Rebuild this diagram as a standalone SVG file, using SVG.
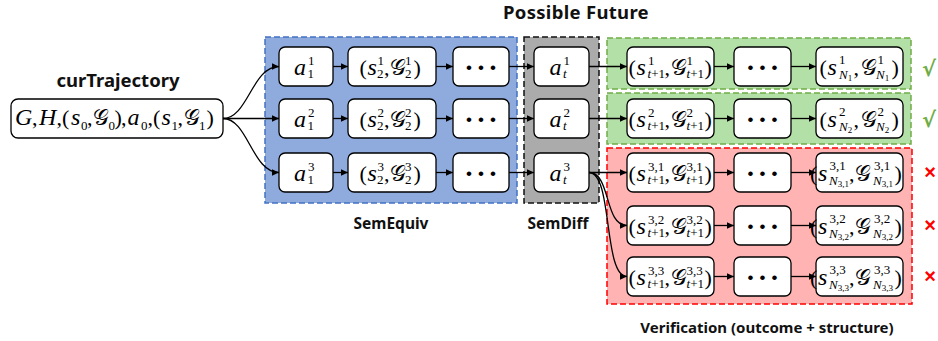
<svg xmlns="http://www.w3.org/2000/svg" width="938" height="341" viewBox="0 0 938 341">
<defs>
<marker id="arr" viewBox="0 0 10 10" refX="10" refY="5" markerWidth="8" markerHeight="7" markerUnits="userSpaceOnUse" orient="auto"><path d="M0,0.5 L10,5 L0,9.5 z" fill="#000"/></marker>
<style>
.box{fill:#fff;stroke:#000;stroke-width:1.3}
.m{font-family:"Liberation Serif","DejaVu Serif",serif;font-size:22px;fill:#000}
.v{font-size:24px;font-style:italic}
.g{font-size:22px}
.i{font-style:italic}
.s{font-size:13px}
.ss{font-size:9px}
.dots{font-family:"Liberation Sans",Arial,sans-serif;font-size:17px;word-spacing:1.3px;text-anchor:middle;fill:#000}
.lbl{font-family:"Noto Sans","Open Sans","Liberation Sans",sans-serif;font-weight:bold;fill:#111;text-anchor:middle}
.reg{stroke-width:1.5;stroke-dasharray:6 3}
</style>
</defs>
<rect width="938" height="341" fill="#fff"/>

<g id="regions">
<rect class="reg" x="265" y="37" width="252" height="166" fill="#8FAADC" stroke="#4472C4"/>
<rect class="reg" x="524" y="37" width="75" height="166" fill="#ABABAB" stroke="#111"/>
<rect class="reg" x="607" y="38" width="304" height="51" fill="#B3E0A6" stroke="#70AD47"/>
<rect class="reg" x="607" y="93" width="304" height="51" fill="#B3E0A6" stroke="#70AD47"/>
<rect class="reg" x="607" y="148" width="305" height="156" fill="#FFB3B3" stroke="#FF0000"/>
</g>

<g id="labels">
<text class="lbl" x="576" y="19" font-size="18.5" letter-spacing="0.3">Possible Future</text>
<text class="lbl" x="118" y="87" font-size="18.5">curTrajectory</text>
<text class="lbl" x="391" y="229" font-size="15.5">SemEquiv</text>
<text class="lbl" x="558" y="229" font-size="15.5">SemDiff</text>
<text class="lbl" x="767" y="333" font-size="15">Verification (outcome + structure)</text>
<text x="929" y="76" font-family="DejaVu Sans,sans-serif" font-size="21" font-weight="bold" fill="#70AD47" text-anchor="middle">√</text>
<text x="929" y="127" font-family="DejaVu Sans,sans-serif" font-size="21" font-weight="bold" fill="#70AD47" text-anchor="middle">√</text>
<text x="930" y="179" font-family="Liberation Sans,sans-serif" font-size="20" font-weight="bold" fill="#FF0000" text-anchor="middle">×</text>
<text x="930" y="232" font-family="Liberation Sans,sans-serif" font-size="20" font-weight="bold" fill="#FF0000" text-anchor="middle">×</text>
<text x="930" y="283" font-family="Liberation Sans,sans-serif" font-size="20" font-weight="bold" fill="#FF0000" text-anchor="middle">×</text>
</g>

<g id="connectors" fill="none" stroke="#000" stroke-width="1.3" marker-end="url(#arr)">
<path d="M223,118.5 C248,118.5 252,66.5 279,66.5"/>
<path d="M223,118.5 H279"/>
<path d="M223,118.5 C248,118.5 252,172.5 279,172.5"/>
<path d="M333,66.5 H348"/><path d="M436,66.5 H453"/><path d="M509,66.5 H534"/>
<path d="M333,118.5 H348"/><path d="M436,118.5 H453"/><path d="M509,118.5 H534"/>
<path d="M333,172.5 H348"/><path d="M436,172.5 H453"/><path d="M509,172.5 H534"/>
<path d="M589,66.5 H627"/><path d="M589,118.5 H627"/>
<path d="M589,172.5 H627"/>
<path d="M589,172.5 C611,172.5 604,225.5 627,225.5"/>
<path d="M589,172.5 C613,172.5 603,276.5 627,276.5"/>
<path d="M714,66.5 H734"/><path d="M791,66.5 H816"/>
<path d="M714,118.5 H734"/><path d="M791,118.5 H816"/>
<path d="M714,172.5 H734"/><path d="M791,172.5 H816"/>
<path d="M714,225.5 H734"/><path d="M791,225.5 H816"/>
<path d="M714,276.5 H734"/><path d="M791,276.5 H816"/>
</g>

<g id="cur">
<rect class="box" x="11" y="99" width="212" height="39" rx="7"/>
<text class="m"><tspan class="v" x="15" y="125">G</tspan><tspan x="32">,</tspan><tspan class="v" x="39">H</tspan><tspan x="56.5">,</tspan><tspan x="62">(</tspan><tspan class="v" x="71">s</tspan><tspan class="s" x="81" y="130">0</tspan><tspan x="87" y="125">,</tspan><tspan class="g" x="93">𝒢</tspan><tspan class="s" x="108.5" y="130">0</tspan><tspan x="114.5" y="125">)</tspan><tspan x="121">,</tspan><tspan class="v" x="127.5">a</tspan><tspan class="s" x="141" y="130">0</tspan><tspan x="147.5" y="125">,</tspan><tspan x="153">(</tspan><tspan class="v" x="161.5">s</tspan><tspan class="s" x="171.5" y="130">1</tspan><tspan x="177.5" y="125">,</tspan><tspan class="g" x="183.5">𝒢</tspan><tspan class="s" x="199" y="130">1</tspan><tspan x="206.5" y="125">)</tspan></text>
</g>

<g id="a1_1"><rect class="box" x="279" y="47" width="54" height="39" rx="6"/>
<text class="m"><tspan class="v" x="294" y="75">a</tspan><tspan class="s" x="308" y="64.5">1</tspan><tspan class="s" x="307.5" y="78">1</tspan></text></g>
<g id="a1_2"><rect class="box" x="279" y="99" width="54" height="39" rx="6"/>
<text class="m"><tspan class="v" x="294" y="127">a</tspan><tspan class="s" x="308" y="116.5">2</tspan><tspan class="s" x="307.5" y="130">1</tspan></text></g>
<g id="a1_3"><rect class="box" x="279" y="153" width="54" height="39" rx="6"/>
<text class="m"><tspan class="v" x="294" y="181">a</tspan><tspan class="s" x="308" y="170.5">3</tspan><tspan class="s" x="307.5" y="184">1</tspan></text></g>

<g id="s2_1"><rect class="box" x="348" y="47" width="88" height="39" rx="6"/>
<text class="m"><tspan x="359.5" y="75">(</tspan><tspan class="v" x="367.5">s</tspan><tspan class="s" x="377.5" y="64.5">1</tspan><tspan class="s" x="377" y="78">2</tspan><tspan x="384" y="75">,</tspan><tspan class="g" x="390">𝒢</tspan><tspan class="s" x="405" y="64.5">1</tspan><tspan class="s" x="405" y="78">2</tspan><tspan x="413.5" y="75">)</tspan></text></g>
<g id="s2_2"><rect class="box" x="348" y="99" width="88" height="39" rx="6"/>
<text class="m"><tspan x="359.5" y="127">(</tspan><tspan class="v" x="367.5">s</tspan><tspan class="s" x="377.5" y="116.5">2</tspan><tspan class="s" x="377" y="130">2</tspan><tspan x="384" y="127">,</tspan><tspan class="g" x="390">𝒢</tspan><tspan class="s" x="405" y="116.5">2</tspan><tspan class="s" x="405" y="130">2</tspan><tspan x="413.5" y="127">)</tspan></text></g>
<g id="s2_3"><rect class="box" x="348" y="153" width="88" height="39" rx="6"/>
<text class="m"><tspan x="359.5" y="181">(</tspan><tspan class="v" x="367.5">s</tspan><tspan class="s" x="377.5" y="170.5">3</tspan><tspan class="s" x="377" y="184">2</tspan><tspan x="384" y="181">,</tspan><tspan class="g" x="390">𝒢</tspan><tspan class="s" x="405" y="170.5">3</tspan><tspan class="s" x="405" y="184">2</tspan><tspan x="413.5" y="181">)</tspan></text></g>

<g id="dots_1"><rect class="box" x="453" y="47" width="56" height="39" rx="6"/><text class="dots" x="481" y="72.5">• • •</text></g>
<g id="dots_2"><rect class="box" x="453" y="99" width="56" height="39" rx="6"/><text class="dots" x="481" y="124.5">• • •</text></g>
<g id="dots_3"><rect class="box" x="453" y="153" width="56" height="39" rx="6"/><text class="dots" x="481" y="178.5">• • •</text></g>

<g id="at_1"><rect class="box" x="534" y="47" width="55" height="39" rx="6"/>
<text class="m"><tspan class="v" x="549.5" y="75">a</tspan><tspan class="s" x="563.5" y="64.5">1</tspan><tspan class="s i" x="563" y="78">t</tspan></text></g>
<g id="at_2"><rect class="box" x="534" y="99" width="55" height="39" rx="6"/>
<text class="m"><tspan class="v" x="549.5" y="127">a</tspan><tspan class="s" x="563.5" y="116.5">2</tspan><tspan class="s i" x="563" y="130">t</tspan></text></g>
<g id="at_3"><rect class="box" x="534" y="153" width="55" height="39" rx="6"/>
<text class="m"><tspan class="v" x="549.5" y="181">a</tspan><tspan class="s" x="563.5" y="170.5">3</tspan><tspan class="s i" x="563" y="184">t</tspan></text></g>

<g id="st_1"><rect class="box" x="627" y="47" width="87" height="39" rx="6"/>
<text class="m"><tspan x="628.5" y="75">(</tspan><tspan class="v" x="636.5">s</tspan><tspan class="s" x="648" y="64.5">1</tspan><tspan class="s" x="647.5" y="78"><tspan class="i">t</tspan>+1</tspan><tspan x="664.5" y="75">,</tspan><tspan class="g" x="670.5">𝒢</tspan><tspan class="s" x="686.5" y="64.5">1</tspan><tspan class="s" x="686.5" y="78"><tspan class="i">t</tspan>+1</tspan><tspan x="704.5" y="75">)</tspan></text></g>
<g id="st_2"><rect class="box" x="627" y="99" width="87" height="39" rx="6"/>
<text class="m"><tspan x="628.5" y="127">(</tspan><tspan class="v" x="636.5">s</tspan><tspan class="s" x="648" y="116.5">2</tspan><tspan class="s" x="647.5" y="130"><tspan class="i">t</tspan>+1</tspan><tspan x="664.5" y="127">,</tspan><tspan class="g" x="670.5">𝒢</tspan><tspan class="s" x="686.5" y="116.5">2</tspan><tspan class="s" x="686.5" y="130"><tspan class="i">t</tspan>+1</tspan><tspan x="704.5" y="127">)</tspan></text></g>
<g id="st_31"><rect class="box" x="627" y="153" width="87" height="39" rx="6"/>
<text class="m"><tspan x="628.5" y="181">(</tspan><tspan class="v" x="636.5">s</tspan><tspan class="s" x="648" y="170.5">3,1</tspan><tspan class="s" x="647.5" y="184"><tspan class="i">t</tspan>+1</tspan><tspan x="664.5" y="181">,</tspan><tspan class="g" x="670.5">𝒢</tspan><tspan class="s" x="686.5" y="170.5">3,1</tspan><tspan class="s" x="686.5" y="184"><tspan class="i">t</tspan>+1</tspan><tspan x="704.5" y="181">)</tspan></text></g>
<g id="st_32"><rect class="box" x="627" y="206" width="87" height="39" rx="6"/>
<text class="m"><tspan x="628.5" y="234">(</tspan><tspan class="v" x="636.5">s</tspan><tspan class="s" x="648" y="223.5">3,2</tspan><tspan class="s" x="647.5" y="237"><tspan class="i">t</tspan>+1</tspan><tspan x="664.5" y="234">,</tspan><tspan class="g" x="670.5">𝒢</tspan><tspan class="s" x="686.5" y="223.5">3,2</tspan><tspan class="s" x="686.5" y="237"><tspan class="i">t</tspan>+1</tspan><tspan x="704.5" y="234">)</tspan></text></g>
<g id="st_33"><rect class="box" x="627" y="257" width="87" height="39" rx="6"/>
<text class="m"><tspan x="628.5" y="285">(</tspan><tspan class="v" x="636.5">s</tspan><tspan class="s" x="648" y="274.5">3,3</tspan><tspan class="s" x="647.5" y="288"><tspan class="i">t</tspan>+1</tspan><tspan x="664.5" y="285">,</tspan><tspan class="g" x="670.5">𝒢</tspan><tspan class="s" x="686.5" y="274.5">3,3</tspan><tspan class="s" x="686.5" y="288"><tspan class="i">t</tspan>+1</tspan><tspan x="704.5" y="285">)</tspan></text></g>

<g id="gdots_1"><rect class="box" x="734" y="47" width="57" height="39" rx="6"/><text class="dots" x="762.5" y="72.5">• • •</text></g>
<g id="gdots_2"><rect class="box" x="734" y="99" width="57" height="39" rx="6"/><text class="dots" x="762.5" y="124.5">• • •</text></g>
<g id="rdots_1"><rect class="box" x="734" y="153" width="57" height="39" rx="6"/><text class="dots" x="762.5" y="178.5">• • •</text></g>
<g id="rdots_2"><rect class="box" x="734" y="206" width="57" height="39" rx="6"/><text class="dots" x="762.5" y="231.5">• • •</text></g>
<g id="rdots_3"><rect class="box" x="734" y="257" width="57" height="39" rx="6"/><text class="dots" x="762.5" y="282.5">• • •</text></g>

<g id="sN_1"><rect class="box" x="816" y="47" width="87" height="39" rx="6"/>
<text class="m"><tspan x="819.5" y="75">(</tspan><tspan class="v" x="827.5">s</tspan><tspan class="s" x="839" y="63.5">1</tspan><tspan class="s i" x="839" y="78.5">N</tspan><tspan class="ss" y="81">1</tspan><tspan x="853.5" y="75">,</tspan><tspan class="g" x="861">𝒢</tspan><tspan class="s" x="877.5" y="63.5">1</tspan><tspan class="s i" x="876" y="78.5">N</tspan><tspan class="ss" y="81">1</tspan><tspan x="891.5" y="75">)</tspan></text></g>
<g id="sN_2"><rect class="box" x="816" y="99" width="87" height="39" rx="6"/>
<text class="m"><tspan x="819.5" y="127">(</tspan><tspan class="v" x="827.5">s</tspan><tspan class="s" x="839" y="115.5">2</tspan><tspan class="s i" x="839" y="130.5">N</tspan><tspan class="ss" y="133">2</tspan><tspan x="853.5" y="127">,</tspan><tspan class="g" x="861">𝒢</tspan><tspan class="s" x="877.5" y="115.5">2</tspan><tspan class="s i" x="876" y="130.5">N</tspan><tspan class="ss" y="133">2</tspan><tspan x="891.5" y="127">)</tspan></text></g>
<g id="sN_31"><rect class="box" x="816" y="153" width="87" height="39" rx="6"/>
<text class="m"><tspan x="810" y="181">(</tspan><tspan class="v" x="818">s</tspan><tspan class="s" x="829.5" y="169.5">3,1</tspan><tspan class="s i" x="829" y="184.5">N</tspan><tspan class="ss" y="187">3,1</tspan><tspan x="849" y="181">,</tspan><tspan class="g" x="855">𝒢</tspan><tspan class="s" x="874" y="169.5">3,1</tspan><tspan class="s i" x="873" y="184.5">N</tspan><tspan class="ss" y="187">3,1</tspan><tspan x="894.5" y="181">)</tspan></text></g>
<g id="sN_32"><rect class="box" x="816" y="206" width="87" height="39" rx="6"/>
<text class="m"><tspan x="810" y="234">(</tspan><tspan class="v" x="818">s</tspan><tspan class="s" x="829.5" y="222.5">3,2</tspan><tspan class="s i" x="829" y="237.5">N</tspan><tspan class="ss" y="240">3,2</tspan><tspan x="849" y="234">,</tspan><tspan class="g" x="855">𝒢</tspan><tspan class="s" x="874" y="222.5">3,2</tspan><tspan class="s i" x="873" y="237.5">N</tspan><tspan class="ss" y="240">3,2</tspan><tspan x="894.5" y="234">)</tspan></text></g>
<g id="sN_33"><rect class="box" x="816" y="257" width="87" height="39" rx="6"/>
<text class="m"><tspan x="810" y="285">(</tspan><tspan class="v" x="818">s</tspan><tspan class="s" x="829.5" y="273.5">3,3</tspan><tspan class="s i" x="829" y="288.5">N</tspan><tspan class="ss" y="291">3,3</tspan><tspan x="849" y="285">,</tspan><tspan class="g" x="855">𝒢</tspan><tspan class="s" x="874" y="273.5">3,3</tspan><tspan class="s i" x="873" y="288.5">N</tspan><tspan class="ss" y="291">3,3</tspan><tspan x="894.5" y="285">)</tspan></text></g>
</svg>
